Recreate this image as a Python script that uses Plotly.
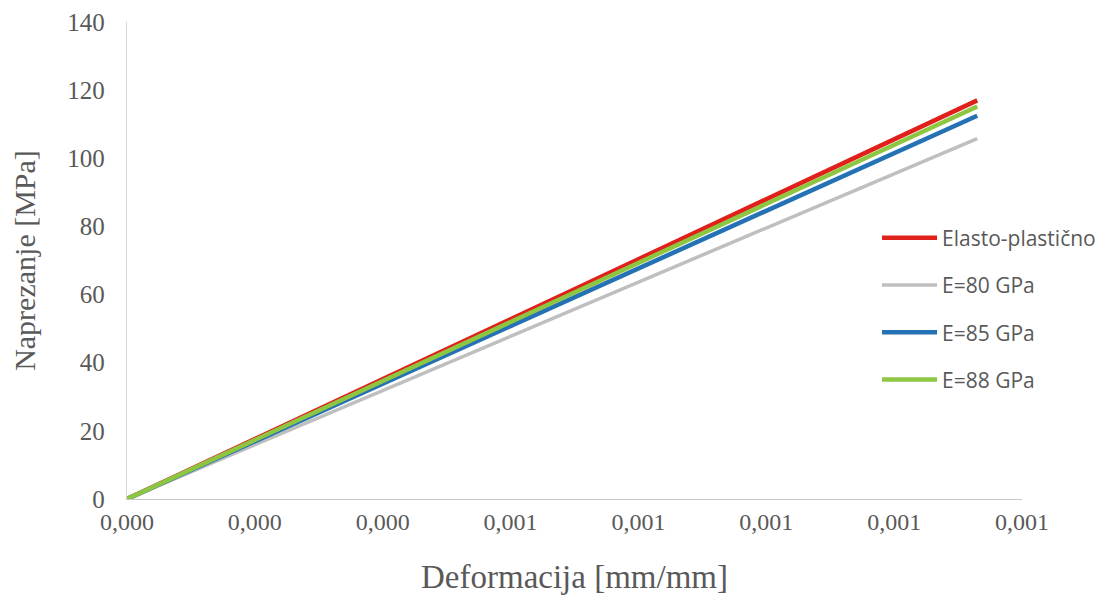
import plotly.graph_objects as go

# Data (strain [mm/mm], stress [MPa])
strain = [0.0, 0.00133]
series_names = ["Elasto-plastično", "E=80 GPa", "E=85 GPa", "E=88 GPa"]
stress_elasto = [0.0, 117.0]
stress_e80 = [0.0, 105.8]
stress_e85 = [0.0, 112.5]
stress_e88 = [0.0, 115.2]
x_tickvals = [0.0, 0.0002, 0.0004, 0.0006, 0.0008, 0.0010, 0.0012, 0.0014]
y_tickvals = [0, 20, 40, 60, 80, 100, 120, 140]

colors = ["#E0201B", "#BFBFBF", "#2472B5", "#8DC641"]
widths = [4.5, 3.5, 4.5, 4.5]
ys = [stress_elasto, stress_e80, stress_e85, stress_e88]

fig = go.Figure()
for i, (name, y) in enumerate(zip(series_names, ys)):
    fig.add_trace(go.Scatter(
        x=strain, y=y, mode="lines", name=name,
        legendgroup=f"g{i}",
        line=dict(color=colors[i], width=widths[i]),
    ))

txt = "#595959"
fig.update_layout(
    width=1099, height=593,
    paper_bgcolor="white", plot_bgcolor="white",
    separators=",.",
    margin=dict(l=119, r=85, t=14, b=102, autoexpand=False),
    showlegend=True,
    legend=dict(
        x=0.838, y=0.59, xanchor="left", yanchor="top",
        font=dict(family="Open Sans", size=21, color=txt),
        itemwidth=55, tracegroupgap=17,
        bgcolor="rgba(0,0,0,0)",
    ),
    xaxis=dict(
        range=[0, 0.0014], tickvals=x_tickvals, tickformat=".3f",
        showgrid=False, zeroline=False, automargin=False,
        showline=True, linecolor="#C8C8C8", linewidth=1.3,
        ticks="outside", ticklen=1, tickcolor="rgba(0,0,0,0)",
        tickfont=dict(family="Liberation Serif", size=24, color=txt),
        title=dict(text="Deformacija [mm/mm]", standoff=30,
                   font=dict(family="Liberation Serif", size=33, color=txt)),
    ),
    yaxis=dict(
        range=[0, 140], tickvals=y_tickvals,
        showgrid=False, zeroline=False, automargin=False,
        showline=True, linecolor="#D9D9D9", linewidth=1.3,
        ticks="outside", ticklen=16, tickcolor="rgba(0,0,0,0)",
        tickfont=dict(family="Liberation Serif", size=25, color=txt),
        title=dict(text="Naprezanje [MPa]", standoff=22,
                   font=dict(family="Liberation Serif", size=30, color=txt)),
    ),
)

fig.write_html("out.html")
